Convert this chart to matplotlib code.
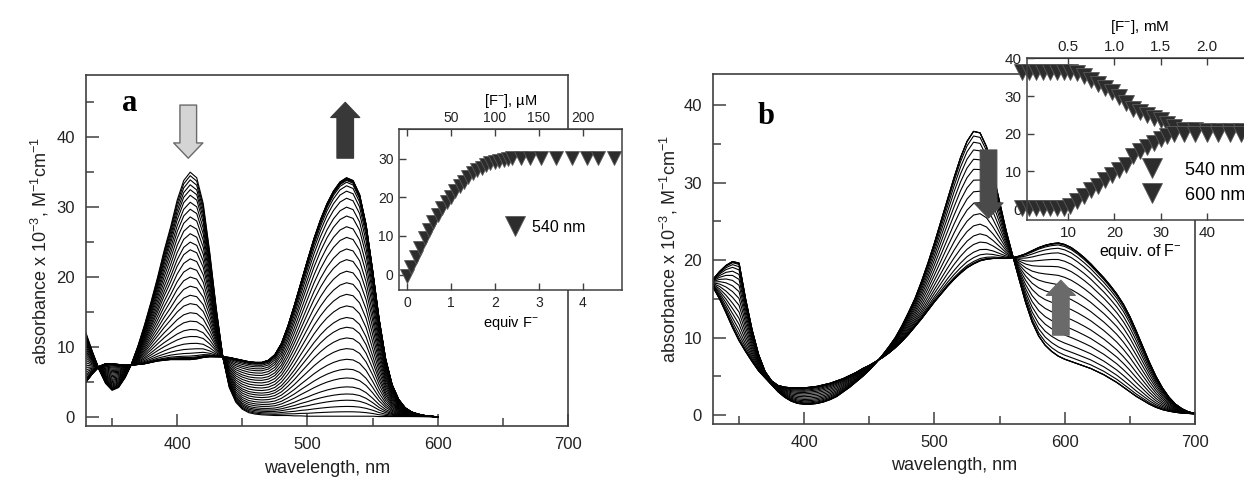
import numpy as np
import matplotlib
matplotlib.use('Agg')
import matplotlib.pyplot as plt
from matplotlib.patches import ArrowStyle
from matplotlib.lines import Line2D
from matplotlib.ticker import MultipleLocator

plt.rcParams['font.family'] = ['Liberation Sans', 'DejaVu Sans']
plt.rcParams['mathtext.fontset'] = 'custom'
plt.rcParams['mathtext.rm'] = 'Liberation Sans'
plt.rcParams['mathtext.it'] = 'Liberation Sans:italic'
plt.rcParams['mathtext.bf'] = 'Liberation Sans:bold'

# ---------------- data: panel a spectra ----------------
wl_a = np.arange(330, 605, 5)
abs_a_start = [12.0, 9.3, 6.8, 4.8, 3.8, 4.2, 5.6, 7.6, 10.2, 13.2,
               16.5, 20.0, 23.8, 27.2, 31.0, 33.8, 35.0, 34.2, 30.5, 23.5,
               15.5, 8.6, 4.2, 2.1, 1.1, 0.6, 0.4, 0.3, 0.25, 0.2,
               0.2, 0.2, 0.15, 0.15, 0.1, 0.1, 0.1, 0.1, 0.1, 0.1,
               0.1, 0.1, 0.1, 0.1, 0.1, 0.05, 0.05, 0.05, 0.05, 0.05,
               0.05, 0.05, 0.05, 0.05, 0.0]
abs_a_end = [5.0, 6.2, 7.2, 7.6, 7.6, 7.5, 7.4, 7.4, 7.5, 7.6,
             7.8, 8.0, 8.1, 8.2, 8.2, 8.2, 8.2, 8.3, 8.5, 8.6,
             8.6, 8.6, 8.5, 8.3, 8.1, 7.9, 7.8, 7.8, 8.1, 8.9,
             10.5, 13.0, 16.0, 19.2, 22.4, 25.5, 28.2, 30.5, 32.3, 33.6,
             34.2, 33.8, 31.8, 27.5, 21.0, 14.0, 8.3, 4.6, 2.5, 1.3,
             0.7, 0.4, 0.2, 0.1, 0.0]
# absorbance at 410 nm read for each recorded spectrum (panel a)
peak410_a = [35.0, 34.5, 33.9, 33.2, 32.5, 31.7, 30.7, 29.7, 28.6, 27.4,
             26.2, 25.0, 23.9, 22.6, 21.3, 20.0, 18.7, 17.4, 16.2, 14.9,
             13.7, 12.5, 11.5, 10.5, 9.7, 9.1, 8.7, 8.5, 8.4, 8.3,
             8.3, 8.25, 8.2, 8.2]

# ---------------- data: panel b spectra ----------------
wl_b = np.arange(330, 705, 5)
abs_b_start = [16.5, 15.0, 13.2, 11.3, 9.6, 8.2, 6.9, 5.7, 4.8, 3.9,
               3.0, 2.3, 1.8, 1.5, 1.4, 1.4, 1.5, 1.7, 2.0, 2.4,
               3.0, 3.6, 4.3, 5.0, 5.8, 6.7, 7.7, 8.8, 10.0, 11.5,
               13.2, 15.0, 17.2, 19.6, 22.2, 25.0, 27.8, 30.6, 33.2, 35.3,
               36.6, 36.4, 34.6, 31.2, 27.5, 23.8, 20.6, 17.5, 14.5, 12.0,
               10.2, 9.0, 8.2, 7.6, 7.2, 6.9, 6.6, 6.3, 6.0, 5.6,
               5.2, 4.7, 4.2, 3.6, 3.0, 2.4, 1.9, 1.4, 1.0, 0.7,
               0.5, 0.35, 0.25, 0.2, 0.15]
abs_b_end = [17.5, 18.5, 19.3, 19.8, 19.6, 15.0, 11.0, 7.8, 5.6, 4.4,
             3.8, 3.6, 3.5, 3.5, 3.5, 3.6, 3.7, 3.9, 4.1, 4.4,
             4.7, 5.1, 5.5, 6.0, 6.4, 6.9, 7.4, 8.0, 8.7, 9.5,
             10.4, 11.4, 12.4, 13.5, 14.6, 15.6, 16.6, 17.5, 18.3, 19.0,
             19.5, 19.9, 20.1, 20.2, 20.2, 20.2, 20.3, 20.5, 20.8, 21.2,
             21.6, 21.9, 22.1, 22.2, 22.0, 21.6, 21.0, 20.3, 19.5, 18.6,
             17.7, 16.7, 15.6, 14.3, 12.7, 10.8, 8.8, 6.8, 5.0, 3.5,
             2.3, 1.4, 0.8, 0.4, 0.2]
# absorbance at 530 nm read for each recorded spectrum (panel b)
peak530_b = [36.6, 36.6, 36.6, 36.0, 35.2, 34.2, 33.0, 31.7, 30.3, 28.8,
             27.3, 25.8, 24.4, 23.1, 22.0, 21.0, 20.3, 19.8, 19.6, 19.5,
             19.5, 19.5]

# ---------------- data: inset a ----------------
equiv_a = [0.0, 0.1, 0.2, 0.3, 0.4, 0.5, 0.6, 0.7, 0.8, 0.9,
           1.0, 1.1, 1.2, 1.3, 1.4, 1.5, 1.6, 1.7, 1.8, 1.9,
           2.0, 2.1, 2.2, 2.3, 2.4, 2.6, 2.8, 3.05, 3.4, 3.75,
           4.1, 4.35, 4.7]
a540_a = [-0.5, 2.0, 4.5, 7.0, 9.5, 11.5, 13.5, 15.5, 17.2, 18.8,
          20.2, 21.6, 22.9, 24.1, 25.2, 26.2, 27.0, 27.7, 28.3, 28.8,
          29.2, 29.5, 29.8, 30.0, 30.1, 30.2, 30.3, 30.3, 30.3, 30.3,
          30.3, 30.3, 30.3]

# ---------------- data: inset b ----------------
equiv_b = [0, 1.5, 3, 4.5, 6, 7.5, 9, 10.5, 12, 13.5,
           15, 16.5, 18, 19.5, 21, 22.5, 24, 25.5, 27, 28.5,
           30, 31.5, 33, 35, 37.5, 40, 42.5, 45, 47.5]
a540_b = [36.3, 36.3, 36.3, 36.3, 36.3, 36.3, 36.3, 36.3, 36.0, 35.3,
          34.2, 33.2, 32.1, 31.0, 29.7, 28.2, 26.6, 25.8, 25.1, 24.3,
          23.6, 22.6, 21.7, 21.1, 20.9, 20.8, 20.8, 20.8, 20.8]
a600_b = [0.3, 0.3, 0.3, 0.3, 0.3, 0.3, 0.3, 0.8, 2.2, 3.6,
          5.0, 6.1, 7.6, 9.0, 10.3, 11.8, 14.0, 15.5, 16.6, 17.6,
          18.6, 19.4, 19.9, 20.0, 20.0, 20.0, 20.0, 20.0, 20.0]

# ---------------- figure ----------------
W, H = 1244, 491
fig = plt.figure(figsize=(W / 100, H / 100), dpi=100)


def fx(px):
    return px / W


def fy(py):
    return 1 - py / H


spine_col = '#404040'
ylab = r'absorbance x 10$^{-3}$, M$^{-1}$cm$^{-1}$'


def style_main(ax):
    for s in ax.spines.values():
        s.set_color(spine_col)
        s.set_linewidth(1.2)
    ax.tick_params(which='both', direction='in', colors=spine_col,
                   labelcolor='#222222', labelsize=12, pad=8)
    ax.tick_params(which='major', length=9, width=1.1)
    ax.tick_params(which='minor', length=6, width=1.1)
    ax.xaxis.set_major_locator(MultipleLocator(100))
    ax.xaxis.set_minor_locator(MultipleLocator(50))
    ax.yaxis.set_minor_locator(MultipleLocator(5))


# ---- panel a ----
axa = fig.add_axes([fx(86), fy(426), fx(568 - 86), (426 - 75) / H])
A0a, A1a = np.array(abs_a_start), np.array(abs_a_end)
ref_a0, ref_a1 = peak410_a[0], peak410_a[-1]
for v in peak410_a:
    f = (ref_a0 - v) / (ref_a0 - ref_a1)
    axa.plot(wl_a, (1 - f) * A0a + f * A1a, color='black', lw=0.8)
axa.set_xlim(330, 700)
axa.set_ylim(-1.3, 48.9)
axa.set_yticks([0, 10, 20, 30, 40])
style_main(axa)
axa.set_xlabel('wavelength, nm', fontsize=13, labelpad=6, color='#222222')
axa.set_ylabel(ylab, fontsize=13, labelpad=4, color='#222222')
axa.text(0.09, 0.92, 'a', transform=axa.transAxes, fontsize=22,
         fontweight='bold', family='Liberation Serif', ha='center', va='center')

arrow_dn = ArrowStyle('Simple', head_length=11, head_width=21, tail_width=12)
axa.annotate('', xy=(408.5, 37.0), xytext=(408.5, 44.6),
             arrowprops=dict(arrowstyle=arrow_dn, mutation_scale=1,
                             fc='#d4d4d4', ec='#6a6a6a', lw=1.0,
                             shrinkA=0, shrinkB=0))
axa.annotate('', xy=(529, 45.0), xytext=(529, 37.0),
             arrowprops=dict(arrowstyle=arrow_dn, mutation_scale=1,
                             fc='#383838', ec='#383838', lw=0.8,
                             shrinkA=0, shrinkB=0))

# ---- panel b ----
axb = fig.add_axes([fx(713), fy(424), fx(1195 - 713), (424 - 74) / H])
A0b, A1b = np.array(abs_b_start), np.array(abs_b_end)
ref_b0, ref_b1 = peak530_b[0], peak530_b[-1]
for v in peak530_b:
    f = (ref_b0 - v) / (ref_b0 - ref_b1)
    axb.plot(wl_b, (1 - f) * A0b + f * A1b, color='black', lw=0.8)
axb.set_xlim(330, 700)
axb.set_ylim(-1.16, 44.0)
axb.set_yticks([0, 10, 20, 30, 40])
style_main(axb)
axb.set_xlabel('wavelength, nm', fontsize=13, labelpad=5, color='#222222')
axb.set_ylabel(ylab, fontsize=13, labelpad=2, color='#222222')
axb.text(0.11, 0.88, 'b', transform=axb.transAxes, fontsize=22,
         fontweight='bold', family='Liberation Serif', ha='center', va='center')
axb.annotate('', xy=(541.5, 25.4), xytext=(541.5, 34.2),
             arrowprops=dict(arrowstyle=arrow_dn, mutation_scale=1,
                             fc='#4a4a4a', ec='#4a4a4a', lw=0.8,
                             shrinkA=0, shrinkB=0))
axb.annotate('', xy=(597, 17.4), xytext=(597, 10.3),
             arrowprops=dict(arrowstyle=arrow_dn, mutation_scale=1,
                             fc='#6a6a6a', ec='#6a6a6a', lw=0.8,
                             shrinkA=0, shrinkB=0))

mk_fc, mk_ec = '#2c2c2c', '#5a5a5a'


def style_inset(ax, size):
    for s in ax.spines.values():
        s.set_color(spine_col)
        s.set_linewidth(1.1)
    ax.tick_params(which='both', direction='in', colors=spine_col,
                   labelcolor='#222222', labelsize=size, length=5, width=1.0, pad=4)


# ---- inset a ----
ia = fig.add_axes([fx(399), fy(290), fx(622 - 399), (290 - 129) / H])
ia.set_zorder(5)
ia.plot(equiv_a, a540_a, linestyle='none', marker='v', ms=10,
        mfc=mk_fc, mec=mk_ec, mew=0.6, clip_on=False)
ia.set_xlim(-0.18, 4.89)
ia.set_ylim(-4.0, 37.7)
ia.set_xticks([0, 1, 2, 3, 4])
ia.set_yticks([0, 10, 20, 30])
style_inset(ia, 10)
ia.set_xlabel('equiv F$^{-}$', fontsize=10.5, labelpad=3)
sa = ia.secondary_xaxis('top', functions=(lambda e: e * 50.0, lambda c: c / 50.0))
sa.set_xticks([0, 50, 100, 150, 200])
sa.set_xticklabels(['', '50', '100', '150', '200'])
sa.tick_params(direction='in', length=5, width=1.0, colors=spine_col,
               labelcolor='#222222', labelsize=10, pad=3)
sa.spines['top'].set_color(spine_col)
sa.set_xlabel('[F$^{-}$], µM', fontsize=10.5, labelpad=4)
ha = [Line2D([], [], linestyle='none', marker='v', ms=14, mfc=mk_fc, mec=mk_ec, mew=0.6)]
ia.legend(ha, ['540 nm'], loc='center left', bbox_to_anchor=(0.44, 0.39),
          frameon=False, fontsize=11.5, handletextpad=0.5, borderpad=0,
          handlelength=1.2)

# ---- inset b ----
ib = fig.add_axes([fx(1027), fy(220), fx(1253 - 1027), (220 - 58) / H])
ib.set_zorder(5)
ib.plot(equiv_b, a540_b, linestyle='none', marker='v', ms=11,
        mfc=mk_fc, mec=mk_ec, mew=0.6, clip_on=False)
ib.plot(equiv_b, a600_b, linestyle='none', marker='v', ms=11,
        mfc=mk_fc, mec=mk_ec, mew=0.6, clip_on=False)
ib.set_xlim(1.1, 50.0)
ib.set_ylim(-2.9, 40.1)
ib.set_xticks([10, 20, 30, 40])
ib.set_yticks([0, 10, 20, 30, 40])
style_inset(ib, 11)
ib.set_xlabel('equiv. of F$^{-}$', fontsize=11.5, labelpad=2)
sb = ib.secondary_xaxis('top', functions=(lambda e: e * 0.05, lambda c: c / 0.05))
sb.set_xticks([0.5, 1.0, 1.5, 2.0])
sb.set_xticklabels(['0.5', '1.0', '1.5', '2.0'])
sb.tick_params(direction='in', length=5, width=1.0, colors=spine_col,
               labelcolor='#222222', labelsize=11, pad=3)
sb.set_xlabel('[F$^{-}$], mM', fontsize=11, labelpad=6)
hb = [Line2D([], [], linestyle='none', marker='v', ms=15, mfc=mk_fc, mec=mk_ec, mew=0.6)] * 2
ib.legend(hb, ['540 nm', '600 nm'], loc='center left', bbox_to_anchor=(0.46, 0.23),
          frameon=False, fontsize=13, handletextpad=1.2, borderpad=0,
          handlelength=1.3, labelspacing=0.45)

fig.savefig('out.png', dpi=100)
